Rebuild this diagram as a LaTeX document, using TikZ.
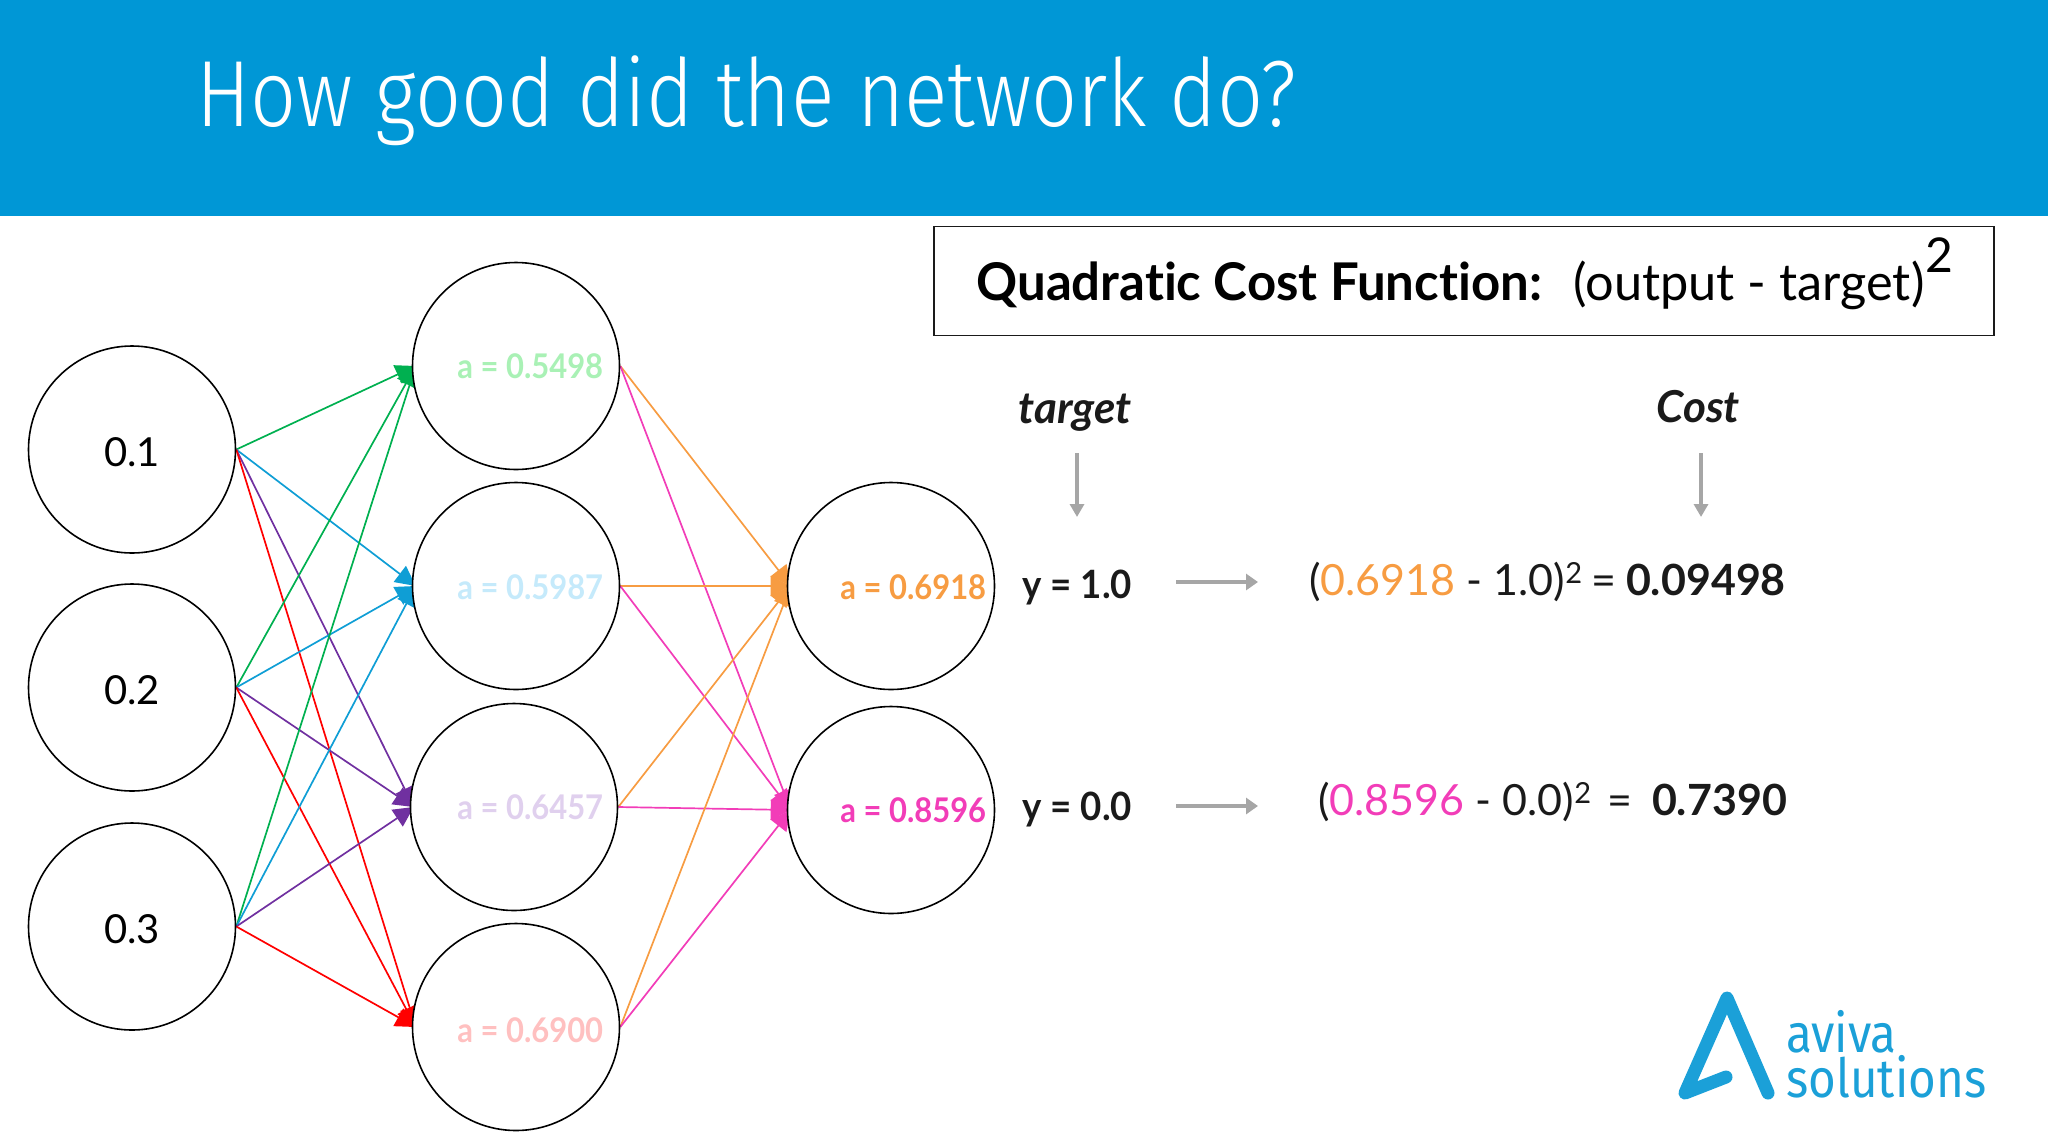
\documentclass[tikz,border=0pt]{standalone}
\usepackage{fontspec}
\usetikzlibrary{arrows.meta}
\setmainfont{Lato}[Ligatures=NoCommon]
\newfontfamily\titlefont[FakeStretch=0.86]{Fira Sans Light}
\newfontfamily\logofont[FakeStretch=0.88]{Fira Sans}
\definecolor{banner}{HTML}{0097D6}
\definecolor{cgreen}{HTML}{00B050}
\definecolor{cblue}{HTML}{0F9ED5}
\definecolor{cpurple}{HTML}{7030A0}
\definecolor{cred}{HTML}{FF0000}
\definecolor{corange}{HTML}{F79C42}
\definecolor{cpink}{HTML}{F23DB8}
\definecolor{lgreen}{HTML}{A9F1B5}
\definecolor{lblue}{HTML}{C5EAFB}
\definecolor{lpurple}{HTML}{E0D0EE}
\definecolor{lred}{HTML}{FFC0C0}
\definecolor{ink}{HTML}{1A1A1A}
\definecolor{arrowgray}{HTML}{A6A6A6}
\definecolor{logo}{HTML}{1BA0D8}
\newcommand{\fsz}[1]{\fontsize{#1}{#1}\selectfont}
\newcommand{\stretchto}[1]{\addfontfeatures{FakeStretch=#1}}
\pgfdeclarelayer{edges}
\pgfsetlayers{edges,main}
\tikzset{
  neuron/.style={circle,draw=black,fill=white,line width=0.8pt,minimum size=103.5pt,inner sep=0pt},
  inputvalue/.style={inner sep=0pt,font=\fsz{20},text=black},
  activation/.style={anchor=base west,inner sep=0pt,font=\fsz{17}\bfseries\stretchto{0.91}},
  plain/.style={anchor=base west,inner sep=0pt,text=ink},
  link/.style={line width=0.85pt,-{Triangle[length=10pt,width=10pt]}},
  grayarrow/.style={draw=arrowgray,line width=1.8pt,-{Triangle[length=6.5pt,width=7pt]}},
  grayarrowh/.style={draw=arrowgray,line width=2.2pt,-{Triangle[length=6pt,width=8pt]}},
}
\begin{document}
\begin{tikzpicture}[x=0.5pt,y=-0.5pt]
\useasboundingbox (0,0) rectangle (2048,1141);
\fill[banner] (0,0) rectangle (2048,216);
\node[anchor=base west,inner sep=0pt,text=white,font=\titlefont\fsz{47}] (title) at (196,126) {How good did the network do?};

\node[neuron] (i1) at (132,449.5) {};
\node[neuron] (i2) at (132,687.5) {};
\node[neuron] (i3) at (132,926.5) {};
\node[inputvalue] (v1) at ([yshift=-1.3pt]i1.center) {0.1};
\node[inputvalue] (v2) at ([yshift=-1.3pt]i2.center) {0.2};
\node[inputvalue] (v3) at ([yshift=-1.3pt]i3.center) {0.3};
\node[neuron] (h1) at (516,366) {};
\node[neuron] (h2) at (516,586) {};
\node[neuron] (h3) at (514,807) {};
\node[neuron] (h4) at (516,1027) {};
\node[neuron] (o1) at (891,586) {};
\node[neuron] (o2) at (891,810) {};

\node[activation,text=lgreen] (a1) at (457,378) {a = 0.5498};
\node[activation,text=lblue] (a2) at (457,599) {a = 0.5987};
\node[activation,text=lpurple] (a3) at (457,819) {a = 0.6457};
\node[activation,text=lred] (a4) at (457,1042) {a = 0.6900};
\node[activation,text=corange] (a5) at (840,599) {a = 0.6918};
\node[activation,text=cpink] (a6) at (840,822) {a = 0.8596};

\begin{pgfonlayer}{edges}
\foreach \i in {1,2,3}{
  \draw[link,cgreen] (i\i.east) -- ([xshift=2pt]h1.west);
  \draw[link,cblue] (i\i.east) -- ([xshift=2pt]h2.west);
  \draw[link,cpurple] (i\i.east) -- ([xshift=2pt]h3.west);
  \draw[link,cred] (i\i.east) -- ([xshift=2pt]h4.west);
}
\foreach \h in {1,2,3,4}{
  \draw[link,corange] (h\h.east) -- ([xshift=2pt]o1.west);
  \draw[link,cpink] (h\h.east) -- ([xshift=2pt]o2.west);
}
\end{pgfonlayer}

\node[draw=ink,line width=0.9pt,minimum width=530pt,minimum height=54.5pt,inner sep=0pt] (box) at (1464,281) {};
\node[plain,font=\fsz{26}\bfseries\stretchto{0.98},text=black] (head) at (976,300) {Quadratic Cost Function:};
\node[plain,font=\fsz{25.5}\stretchto{0.99},text=black] (form) at (1573,300) {(output - target)};
\node[plain,font=\fsz{24},text=black] (sq) at (1925,272) {2};

\node[plain,font=\fsz{22}\bfseries\itshape] (tlabel) at (1018,423) {target};
\node[plain,font=\fsz{22}\bfseries\itshape] (clabel) at (1656,422) {Cost};
\coordinate (t1) at (1077,453);
\coordinate (t2) at (1077,517);
\coordinate (c1) at (1701,453);
\coordinate (c2) at (1701,517);
\draw[grayarrow] (t1) -- (t2);
\draw[grayarrow] (c1) -- (c2);

\node[plain,font=\fsz{19.5}\bfseries\stretchto{0.94}] (y1) at (1022,598) {y = 1.0};
\node[plain,font=\fsz{19.5}\bfseries\stretchto{0.94}] (y2) at (1022,820) {y = 0.0};
\coordinate (r1a) at (1176,582);
\coordinate (r1b) at (1258,582);
\coordinate (r2a) at (1176,806);
\coordinate (r2b) at (1258,806);
\draw[grayarrowh] (r1a) -- (r1b);
\draw[grayarrowh] (r2a) -- (r2b);

\node[plain,font=\fsz{21.5}] (f1) at (1309,595) {(\textcolor{corange}{0.6918} - 1.0)\raisebox{6pt}{\fsz{14.5}2}\hspace{-1pt} = \hspace{-0.5pt}\textbf{0.09498}};
\node[plain,font=\fsz{21.5}] (f2) at (1318,815) {(\textcolor{cpink}{0.8596} - 0.0)\raisebox{6pt}{\fsz{14.5}2}\hspace{8pt}=\hspace{10pt}\textbf{0.7390}};

\draw[logo,line width=6.5pt,line cap=round,line join=round] (1768,1093) -- (1727,998) -- (1685,1093) -- (1726,1077);
\node[anchor=base west,inner sep=0pt,text=logo,font=\logofont\fsz{27}] (logo1) at (1786,1052) {aviva};
\node[anchor=base west,inner sep=0pt,text=logo,font=\logofont\fsz{27}] (logo2) at (1786,1097) {solutions};
\end{tikzpicture}
\end{document}
